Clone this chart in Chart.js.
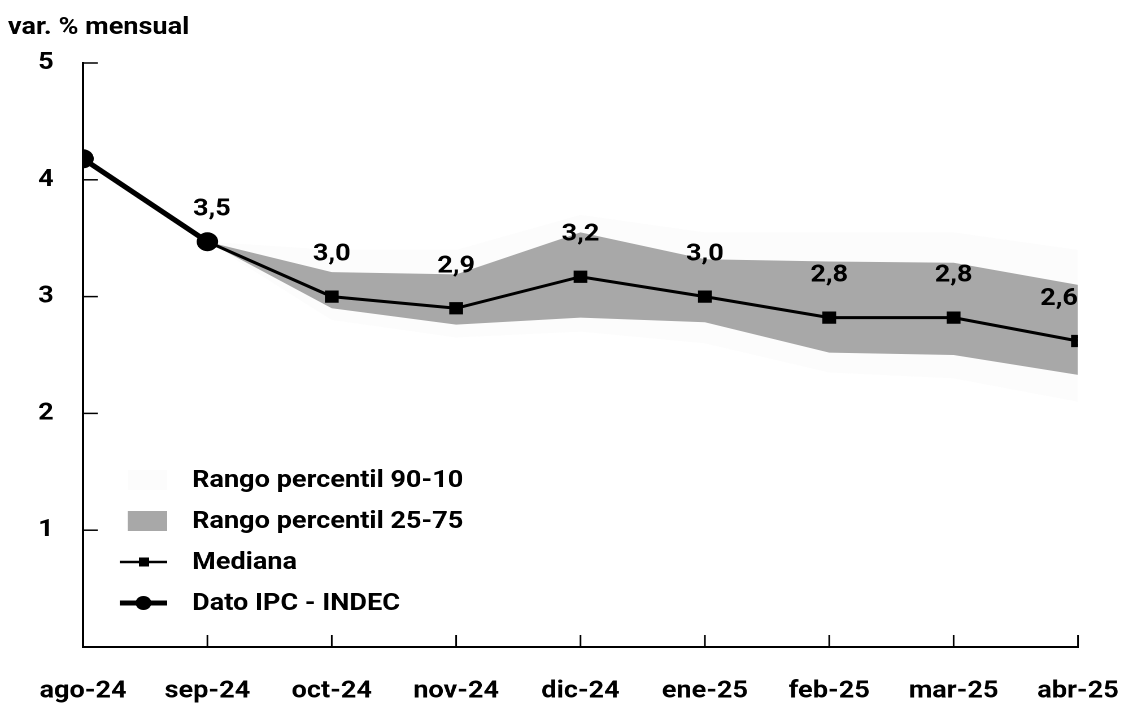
<!DOCTYPE html>
<html>
<head>
<meta charset="utf-8">
<script src="https://cdn.jsdelivr.net/npm/chart.js@4.4.1/dist/chart.umd.min.js"></script>
<style>
  body { margin: 0; background: #fff; overflow: hidden; }
  /* the source picture is a little stretched horizontally */
  #wrap { width: 995px; height: 706px; transform: scaleX(1.1296); transform-origin: 0 0; }
</style>
</head>
<body>
<div id="wrap"><canvas id="ipcChart"></canvas></div>
<script>
const months = ['ago-24', 'sep-24', 'oct-24', 'nov-24', 'dic-24', 'ene-25', 'feb-25', 'mar-25', 'abr-25'];
const ipcIndec = [4.18, 3.47, null, null, null, null, null, null, null];
const mediana  = [null, 3.47, 3.0, 2.9, 3.17, 3.0, 2.82, 2.82, 2.62];
const p75      = [null, 3.47, 3.21, 3.19, 3.55, 3.32, 3.3, 3.29, 3.1];
const p25      = [null, 3.47, 2.9, 2.76, 2.82, 2.78, 2.52, 2.5, 2.33];
const p90      = [null, 3.47, 3.4, 3.4, 3.7, 3.55, 3.55, 3.55, 3.4];
const p10      = [null, 3.47, 2.8, 2.65, 2.7, 2.6, 2.35, 2.3, 2.1];
const yTicks   = [1, 2, 3, 4, 5];

const FONT = 'bold 24px Roboto';
const BAND_IQR = '#a8a8a8';
const BAND_90 = '#fcfcfc';

function fmt(v) {
  return v.toFixed(1).replace('.', ',');
}

// inner ticks, title, value labels and the legend
const decorations = {
  id: 'decorations',
  afterDraw(chart) {
    const ctx = chart.ctx;
    const area = chart.chartArea;
    const xs = chart.scales.x, ys = chart.scales.y;
    ctx.save();

    ctx.strokeStyle = '#000';
    ctx.lineWidth = 1.5;
    ys.ticks.forEach(t => {
      const py = ys.getPixelForValue(t.value);
      ctx.beginPath(); ctx.moveTo(area.left, py); ctx.lineTo(area.left + 13, py); ctx.stroke();
    });
    xs.ticks.forEach((t, i) => {
      if (i === 0) return;
      const px = xs.getPixelForTick(i);
      ctx.beginPath(); ctx.moveTo(px, area.bottom); ctx.lineTo(px, area.bottom - 12); ctx.stroke();
    });

    ctx.fillStyle = '#000';
    ctx.font = FONT;
    ctx.textBaseline = 'middle';
    ctx.textAlign = 'left';
    ctx.fillText('var. % mensual', 7, 28);

    // value labels
    ctx.textAlign = 'center';
    const put = (dsIndex, idx, dy, dx) => {
      const pt = chart.getDatasetMeta(dsIndex).data[idx];
      const txt = fmt(chart.data.datasets[dsIndex].data[idx]);
      const w = ctx.measureText(txt).width;
      const x = Math.min(pt.x + dx, area.right - w / 2);
      ctx.fillText(txt, x, pt.y - dy);
    };
    put(0, 1, 32, 4);
    mediana.forEach((v, i) => { if (v !== null && i > 1) put(1, i, 42, 0); });

    // legend
    const lx0 = 106, lx1 = 148, tx = 170;
    const rows = [480, 521, 562, 603];
    ctx.textAlign = 'left';
    ctx.fillStyle = BAND_90;
    ctx.fillRect(113, rows[0] - 10, lx1 - 113, 20);
    ctx.fillStyle = BAND_IQR;
    ctx.fillRect(113, rows[1] - 10, lx1 - 113, 20);

    ctx.strokeStyle = '#000';
    ctx.fillStyle = '#000';
    ctx.lineWidth = 2.5;
    ctx.beginPath(); ctx.moveTo(lx0, rows[2]); ctx.lineTo(lx1, rows[2]); ctx.stroke();
    ctx.fillRect(123, rows[2] - 4.5, 9, 9);
    ctx.lineWidth = 5;
    ctx.beginPath(); ctx.moveTo(lx0, rows[3]); ctx.lineTo(lx1, rows[3]); ctx.stroke();
    ctx.beginPath(); ctx.arc(127, rows[3], 7, 0, Math.PI * 2); ctx.fill();

    const names = ['Rango percentil 90-10', 'Rango percentil 25-75', 'Mediana', 'Dato IPC - INDEC'];
    names.forEach((n, i) => ctx.fillText(n, tx, rows[i] + 1));
    ctx.restore();
  }
};

Chart.defaults.font.family = 'Roboto';
Chart.defaults.font.size = 24;
Chart.defaults.font.weight = 'bold';
Chart.defaults.color = '#000';

new Chart(document.getElementById('ipcChart'), {
  type: 'line',
  data: {
    labels: months,
    datasets: [
      { label: 'Dato IPC - INDEC', data: ipcIndec, borderColor: '#000', backgroundColor: '#000',
        borderWidth: 5, pointRadius: 7, pointStyle: 'circle', clip: 0 },
      { label: 'Mediana', data: mediana, borderColor: '#000', backgroundColor: '#000',
        borderWidth: 3, pointRadius: 6.5, pointStyle: 'rect', clip: 0 },
      { label: 'Rango percentil 25-75', data: p75, borderWidth: 0, pointRadius: 0,
        backgroundColor: BAND_IQR, fill: '+1', clip: 0 },
      { label: 'p25', data: p25, borderWidth: 0, pointRadius: 0, fill: false, clip: 0 },
      { label: 'Rango percentil 90-10', data: p90, borderWidth: 0, pointRadius: 0,
        backgroundColor: BAND_90, fill: '+1', clip: 0 },
      { label: 'p10', data: p10, borderWidth: 0, pointRadius: 0, fill: false, clip: 0 }
    ]
  },
  options: {
    responsive: true,
    maintainAspectRatio: false,
    devicePixelRatio: 2,
    animation: false,
    layout: { padding: { top: 63, right: 40.7, left: 0, bottom: 0 } },
    plugins: {
      legend: { display: false },
      tooltip: { enabled: false }
    },
    scales: {
      x: {
        type: 'category',
        offset: false,
        grid: { drawOnChartArea: false, drawTicks: false },
        border: { color: '#000', width: 2 },
        ticks: { padding: 30, maxRotation: 0, autoSkip: false },
        afterFit(scale) {
          scale.height = 59;
          scale.paddingLeft = 0;
          scale.paddingRight = 0;
        }
      },
      y: {
        min: 0,
        max: 5,
        grid: { drawOnChartArea: false, drawTicks: false },
        border: { color: '#000', width: 2 },
        ticks: { padding: 26 },
        afterBuildTicks(scale) { scale.ticks = yTicks.map(v => ({ value: v })); },
        afterFit(scale) { scale.width = 73.5; }
      }
    }
  },
  plugins: [decorations]
});
</script>
</body>
</html>
